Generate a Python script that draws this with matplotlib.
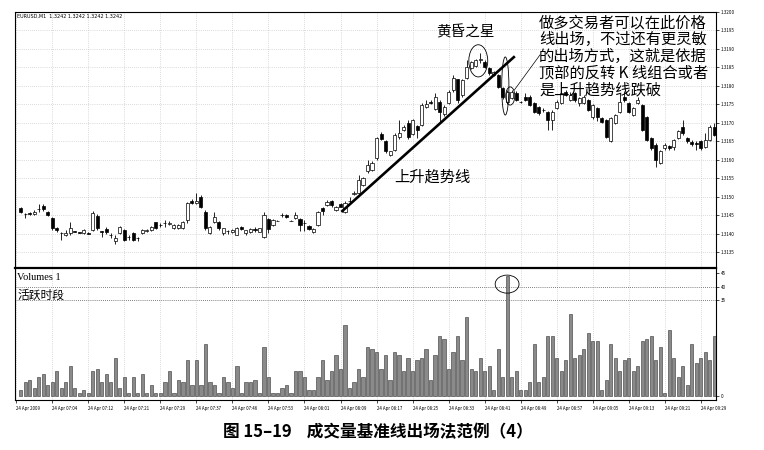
import numpy as np
import matplotlib
matplotlib.use('Agg')
import matplotlib.pyplot as plt
from matplotlib.patches import Ellipse

plt.rcParams['font.family'] = ['Noto Sans CJK SC', 'DejaVu Sans']

# EURUSD M1, 24 Apr 2009
opens = [1.31469, 1.31454, 1.31458, 1.31455, 1.31468, 1.31476, 1.31460, 1.31442, 1.31415, 1.31403,
         1.31398, 1.31402, 1.31407, 1.31404, 1.31402, 1.31402, 1.31411, 1.31448, 1.31407, 1.31413,
         1.31398, 1.31380, 1.31402, 1.31411, 1.31393, 1.31402, 1.31389, 1.31402, 1.31408, 1.31411,
         1.31431, 1.31425, 1.31429, 1.31426, 1.31416, 1.31416, 1.31416, 1.31438, 1.31490, 1.31485,
         1.31501, 1.31460, 1.31402, 1.31433, 1.31433, 1.31402, 1.31408, 1.31405, 1.31398, 1.31420,
         1.31402, 1.31404, 1.31414, 1.31406, 1.31393, 1.31440, 1.31425, 1.31436, 1.31452, 1.31452,
         1.31436, 1.31442, 1.31441, 1.31430, 1.31422, 1.31404, 1.31424, 1.31471, 1.31478, 1.31490,
         1.31465, 1.31481, 1.31460, 1.31488, 1.31508, 1.31510, 1.31533, 1.31569, 1.31573, 1.31605,
         1.31670, 1.31650, 1.31614, 1.31627, 1.31661, 1.31681, 1.31701, 1.31670, 1.31692, 1.31695,
         1.31744, 1.31758, 1.31739, 1.31758, 1.31724, 1.31753, 1.31789, 1.31818, 1.31775, 1.31822,
         1.31849, 1.31854, 1.31870, 1.31865, 1.31849, 1.31830, 1.31830, 1.31795, 1.31757, 1.31768,
         1.31781, 1.31758, 1.31771, 1.31771, 1.31754, 1.31744, 1.31736, 1.31730, 1.31708, 1.31741,
         1.31754, 1.31785, 1.31762, 1.31780, 1.31753, 1.31753, 1.31762, 1.31717, 1.31740, 1.31713,
         1.31708, 1.31650, 1.31701, 1.31731, 1.31771, 1.31753, 1.31722, 1.31753, 1.31749, 1.31717,
         1.31659, 1.31641, 1.31591, 1.31632, 1.31638, 1.31636, 1.31659, 1.31690, 1.31659, 1.31649,
         1.31645, 1.31650, 1.31636, 1.31654, 1.31690]
highs = [1.31474, 1.31458, 1.31460, 1.31465, 1.31480, 1.31480, 1.31462, 1.31446, 1.31420, 1.31405,
         1.31412, 1.31433, 1.31409, 1.31406, 1.31413, 1.31404, 1.31462, 1.31455, 1.31409, 1.31420,
         1.31402, 1.31398, 1.31422, 1.31413, 1.31396, 1.31405, 1.31392, 1.31413, 1.31414, 1.31422,
         1.31433, 1.31429, 1.31437, 1.31435, 1.31426, 1.31426, 1.31435, 1.31487, 1.31494, 1.31510,
         1.31504, 1.31465, 1.31422, 1.31460, 1.31436, 1.31417, 1.31412, 1.31413, 1.31418, 1.31422,
         1.31412, 1.31415, 1.31420, 1.31417, 1.31460, 1.31443, 1.31440, 1.31438, 1.31458, 1.31455,
         1.31438, 1.31460, 1.31443, 1.31438, 1.31424, 1.31415, 1.31462, 1.31474, 1.31492, 1.31492,
         1.31476, 1.31483, 1.31490, 1.31500, 1.31515, 1.31560, 1.31555, 1.31600, 1.31596, 1.31662,
         1.31675, 1.31654, 1.31625, 1.31672, 1.31708, 1.31695, 1.31708, 1.31712, 1.31695, 1.31753,
         1.31762, 1.31762, 1.31780, 1.31762, 1.31748, 1.31789, 1.31830, 1.31820, 1.31820, 1.31870,
         1.31868, 1.31872, 1.31890, 1.31870, 1.31851, 1.31840, 1.31832, 1.31798, 1.31790, 1.31790,
         1.31786, 1.31760, 1.31780, 1.31776, 1.31756, 1.31746, 1.31740, 1.31732, 1.31735, 1.31762,
         1.31785, 1.31790, 1.31785, 1.31785, 1.31770, 1.31775, 1.31766, 1.31752, 1.31744, 1.31716,
         1.31712, 1.31716, 1.31725, 1.31780, 1.31786, 1.31756, 1.31744, 1.31770, 1.31752, 1.31720,
         1.31662, 1.31645, 1.31626, 1.31645, 1.31641, 1.31658, 1.31681, 1.31708, 1.31662, 1.31654,
         1.31650, 1.31654, 1.31672, 1.31695, 1.31700]
lows = [1.31456, 1.31444, 1.31450, 1.31452, 1.31460, 1.31462, 1.31448, 1.31410, 1.31405, 1.31384,
        1.31395, 1.31398, 1.31405, 1.31402, 1.31400, 1.31400, 1.31408, 1.31410, 1.31393, 1.31400,
        1.31390, 1.31373, 1.31400, 1.31380, 1.31385, 1.31380, 1.31380, 1.31400, 1.31406, 1.31409,
        1.31414, 1.31418, 1.31418, 1.31424, 1.31414, 1.31414, 1.31414, 1.31429, 1.31480, 1.31480,
        1.31470, 1.31412, 1.31400, 1.31430, 1.31412, 1.31398, 1.31400, 1.31402, 1.31396, 1.31410,
        1.31398, 1.31402, 1.31405, 1.31404, 1.31390, 1.31402, 1.31422, 1.31434, 1.31447, 1.31442,
        1.31434, 1.31440, 1.31407, 1.31407, 1.31411, 1.31402, 1.31422, 1.31452, 1.31476, 1.31474,
        1.31463, 1.31472, 1.31458, 1.31485, 1.31505, 1.31508, 1.31530, 1.31565, 1.31570, 1.31600,
        1.31654, 1.31620, 1.31612, 1.31625, 1.31658, 1.31678, 1.31658, 1.31668, 1.31659, 1.31692,
        1.31740, 1.31752, 1.31735, 1.31704, 1.31720, 1.31750, 1.31785, 1.31753, 1.31770, 1.31818,
        1.31845, 1.31850, 1.31862, 1.31848, 1.31830, 1.31826, 1.31795, 1.31766, 1.31752, 1.31765,
        1.31760, 1.31754, 1.31760, 1.31746, 1.31726, 1.31722, 1.31730, 1.31681, 1.31681, 1.31738,
        1.31750, 1.31773, 1.31760, 1.31758, 1.31745, 1.31750, 1.31732, 1.31710, 1.31705, 1.31700,
        1.31660, 1.31648, 1.31698, 1.31728, 1.31758, 1.31727, 1.31719, 1.31750, 1.31678, 1.31650,
        1.31628, 1.31582, 1.31588, 1.31628, 1.31628, 1.31627, 1.31656, 1.31668, 1.31646, 1.31638,
        1.31627, 1.31628, 1.31632, 1.31650, 1.31664]
closes = [1.31460, 1.31453, 1.31453, 1.31460, 1.31467, 1.31468, 1.31451, 1.31415, 1.31410, 1.31402,
          1.31403, 1.31415, 1.31406, 1.31403, 1.31411, 1.31401, 1.31456, 1.31415, 1.31406, 1.31404,
          1.31397, 1.31388, 1.31420, 1.31384, 1.31392, 1.31384, 1.31388, 1.31411, 1.31412, 1.31420,
          1.31416, 1.31424, 1.31430, 1.31429, 1.31424, 1.31424, 1.31433, 1.31483, 1.31483, 1.31490,
          1.31474, 1.31415, 1.31420, 1.31447, 1.31415, 1.31415, 1.31407, 1.31410, 1.31415, 1.31413,
          1.31410, 1.31413, 1.31412, 1.31415, 1.31452, 1.31413, 1.31438, 1.31435, 1.31451, 1.31445,
          1.31435, 1.31452, 1.31424, 1.31429, 1.31413, 1.31413, 1.31460, 1.31462, 1.31487, 1.31477,
          1.31474, 1.31474, 1.31483, 1.31490, 1.31510, 1.31546, 1.31551, 1.31587, 1.31591, 1.31659,
          1.31657, 1.31623, 1.31623, 1.31668, 1.31672, 1.31690, 1.31661, 1.31708, 1.31681, 1.31749,
          1.31751, 1.31754, 1.31771, 1.31730, 1.31744, 1.31784, 1.31821, 1.31762, 1.31816, 1.31851,
          1.31865, 1.31870, 1.31873, 1.31851, 1.31835, 1.31838, 1.31798, 1.31770, 1.31784, 1.31784,
          1.31762, 1.31756, 1.31762, 1.31749, 1.31730, 1.31727, 1.31735, 1.31708, 1.31730, 1.31757,
          1.31781, 1.31776, 1.31776, 1.31762, 1.31767, 1.31771, 1.31735, 1.31749, 1.31717, 1.31704,
          1.31663, 1.31713, 1.31722, 1.31758, 1.31762, 1.31730, 1.31740, 1.31762, 1.31681, 1.31654,
          1.31632, 1.31600, 1.31623, 1.31641, 1.31632, 1.31654, 1.31677, 1.31672, 1.31650, 1.31643,
          1.31644, 1.31632, 1.31654, 1.31690, 1.31668]
volumes = [2, 5, 6, 3, 7, 8, 4, 5, 9, 3, 5, 11, 3, 1, 2, 1, 9, 10, 5, 8,
           5, 14, 3, 7, 1, 7, 1, 8, 1, 4, 1, 1, 5, 9, 1, 6, 5, 13, 4, 13,
           4, 19, 5, 4, 1, 7, 5, 3, 11, 1, 5,
           5, 6, 1, 18, 7, 1, 1, 3, 4, 1, 9, 9, 7, 2, 2, 7, 13, 6, 9, 15,
           10, 26, 3, 5, 10, 7, 18, 17, 16, 10, 15, 6, 16, 15, 9, 14, 9, 13, 14, 17,
           6, 15, 22, 21, 10, 16, 22, 13, 29, 10, 9, 14,
           9, 11, 2, 17, 7, 44, 7, 9, 2, 2, 5, 19, 5, 7, 22, 22, 14, 9, 13, 30,
           14, 15, 17, 23, 20, 20, 2, 6, 19, 14, 9, 13, 14, 9, 11, 20, 21, 22, 13, 18,
           1, 24, 14, 7, 11, 4, 19, 12, 14, 16, 13, 22]
time_labels = ['24 Apr 2009', '24 Apr 07:04', '24 Apr 07:12', '24 Apr 07:21', '24 Apr 07:29',
               '24 Apr 07:37', '24 Apr 07:46', '24 Apr 07:53', '24 Apr 08:01', '24 Apr 08:09',
               '24 Apr 08:17', '24 Apr 08:25', '24 Apr 08:33', '24 Apr 08:41', '24 Apr 08:49',
               '24 Apr 08:57', '24 Apr 09:05', '24 Apr 09:13', '24 Apr 09:21', '24 Apr 09:29']
price_ticks = [1.3135, 1.3140, 1.3145, 1.3150, 1.3155, 1.3160, 1.3165,
               1.3170, 1.3175, 1.3180, 1.3185, 1.3190, 1.3195, 1.3200]
vol_ticks = [0, 35, 40, 45]
trend_x = [71.4, 109.5]
trend_y = [1.31462, 1.31878]

o = np.array(opens); h = np.array(highs); l = np.array(lows); c = np.array(closes)
x = np.arange(len(o))
up = c >= o

fig = plt.figure(figsize=(7.64, 4.5), dpi=100)
ax = fig.add_axes([15/764, 182/450, 701/764, 256/450])
axv = fig.add_axes([15/764, 50/450, 701/764, 132/450], sharex=ax)

# candles
ax.vlines(x, l, h, color='black', lw=0.6, zorder=2)
ax.bar(x, np.abs(c - o), bottom=np.minimum(o, c), width=0.68,
       color=np.where(up, 'white', 'black'), edgecolor='black', lw=0.5, zorder=3)

# trend line + notes
ax.plot(trend_x, trend_y, color='black', lw=1.9, zorder=4)
ax.add_patch(Ellipse((101.6, 1.31868), 4.2, 0.00087, fill=False, ec='black', lw=0.6, zorder=5))
ax.add_patch(Ellipse((107.6, 1.31800), 1.6, 0.00157, fill=False, ec='black', lw=0.6, zorder=5))
ax.add_patch(Ellipse((108.7, 1.31773), 2.0, 0.00049, fill=False, ec='black', lw=0.6, zorder=5))
ax.plot([115.3, 109.6], [1.31884, 1.31789], color='black', lw=0.5, zorder=5)
ax.text(98.7, 1.31945, '黄昏之星', fontsize=10.5, ha='center', va='center', zorder=6)
ax.text(91.4, 1.31554, '上升趋势线', fontsize=11, ha='center', va='center', zorder=6)
ax.text(115.1, 1.31994, '做多交易者可以在此价格\n线出场，不过还有更灵敏\n的出场方式，这就是依据\n'
        '顶部的反转 K 线组合或者\n是上升趋势线跌破',
        fontsize=11, ha='left', va='top', linespacing=0.98, zorder=6)
ax.text(0.003, 0.992, 'EURUSD,M1  1.3242 1.3242 1.3242 1.3242', transform=ax.transAxes,
        fontsize=3.5, ha='left', va='top', family='DejaVu Sans')

ax.set_ylim(1.31308, 1.32)
ax.set_yticks(price_ticks)
ax.set_yticklabels(['%.4f' % p for p in price_ticks])
ax.yaxis.tick_right()
ax.tick_params(axis='y', labelsize=3.3, length=2, width=0.5, pad=1.5)
ax.tick_params(axis='x', labelbottom=False, length=0)
ax.grid(True, ls=(0, (1, 2)), color='#b8b8b8', lw=0.5)

# volumes
axv.bar(x, volumes, width=0.7, color='#8a8a8a', edgecolor='#333333', lw=0.4, zorder=3)
axv.axhline(40, color='#555555', ls=(0, (1, 1.5)), lw=0.6)
axv.axhline(35, color='#555555', ls=(0, (1, 1.5)), lw=0.6)
axv.add_patch(Ellipse((108, 40.9), 5.3, 6.6, fill=False, ec='black', lw=0.6, zorder=5))
axv.text(0.003, 0.925, 'Volumes 1', transform=axv.transAxes, fontsize=7.5,
         family='Liberation Serif', ha='left', va='center')
axv.text(0.003, 0.795, '活跃时段', transform=axv.transAxes, fontsize=8.5, ha='left', va='center')
axv.set_ylim(-1.5, 46.8)
axv.set_yticks(vol_ticks)
axv.yaxis.tick_right()
axv.tick_params(axis='y', labelsize=3.3, length=2, width=0.5, pad=1.5)
tick_pos = np.arange(len(time_labels)) * 8 - 1
axv.set_xticks(tick_pos)
axv.set_xticklabels(time_labels, ha='left', fontsize=3.2)
axv.tick_params(axis='x', length=2, width=0.5, pad=2.5)
axv.grid(True, axis='x', ls=(0, (1, 2)), color='#b8b8b8', lw=0.5)
axv.set_xlim(-1.3, 154.4)
for s in axv.spines.values():
    s.set_linewidth(0.8)
axv.spines['top'].set_linewidth(1.6)
for s in ax.spines.values():
    s.set_linewidth(0.8)

fig.text(0.495, 0.04, '图 15–19    成交量基准线出场法范例（4）', fontsize=12,
         ha='center', va='center', weight='bold')

fig.savefig('out.png', dpi=100)
